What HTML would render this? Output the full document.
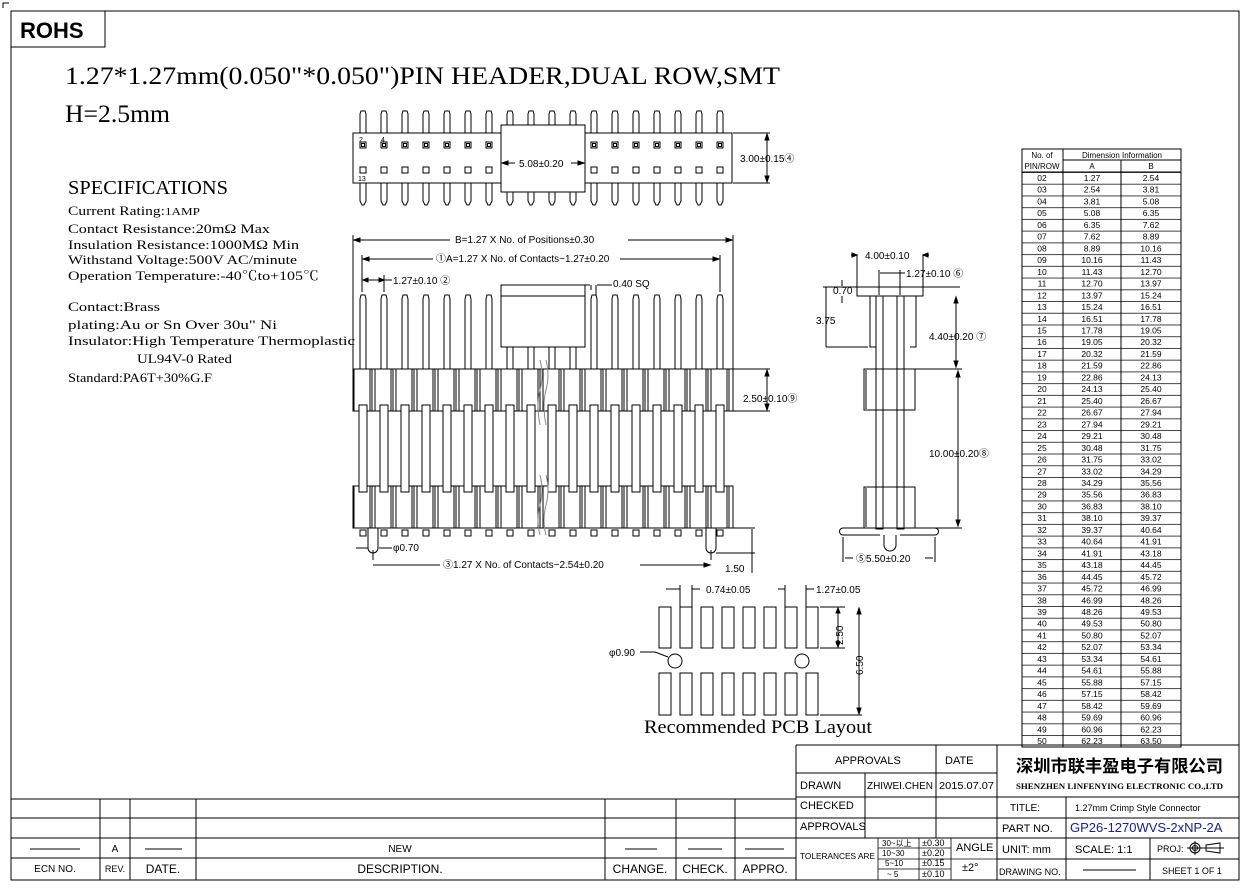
<!DOCTYPE html>
<html><head><meta charset="utf-8"><style>
html,body{margin:0;padding:0;background:#fff}
svg{display:block}
.s{font-family:"Liberation Sans","Noto Sans CJK SC",sans-serif;fill:#000}
.r{font-family:"Liberation Serif","Noto Serif CJK SC",serif;fill:#000}
</style></head><body>
<svg width="1249" height="891" viewBox="0 0 1249 891" xmlns="http://www.w3.org/2000/svg" stroke="#000" fill="none" stroke-width="1">
<defs>
<g id="tp"><path d="M-3,133 V114 L-2,111 H2 L3,114 V133"/><path d="M-3,183 V201 L-1,205 H1 L3,201 V183"/><rect x="-3" y="142" width="6" height="6"/><rect x="-1.5" y="143.5" width="3" height="3"/><rect x="-3" y="167" width="6" height="6"/></g>
<g id="fp"><path d="M-3,369 V299 L-2,295 H2 L3,299 V369"/><rect x="-4" y="405" width="8" height="87" fill="#fff"/><line x1="-9" y1="369" x2="-9" y2="411"/><line x1="7" y1="369" x2="7" y2="411"/><line x1="9" y1="369" x2="9" y2="411"/><line x1="-9" y1="486" x2="-9" y2="528"/><line x1="7" y1="486" x2="7" y2="528"/><line x1="9" y1="486" x2="9" y2="528"/><rect x="-3" y="530" width="6" height="6"/></g>
<pattern id="tl" x="0" y="172" width="20" height="11.73" patternUnits="userSpaceOnUse"><line x1="0" y1="0.5" x2="20" y2="0.5" stroke-width="0.8"/></pattern>
</defs>
<rect x="11" y="11" width="1228" height="869"/>
<path d="M3,8 V3 H9"/>
<rect x="11" y="11" width="94" height="36"/>
<text x="20" y="38" class="s" font-size="22" font-weight="bold" stroke="none">ROHS</text>
<text x="65" y="84" class="r" font-size="25" stroke="none" textLength="715" lengthAdjust="spacingAndGlyphs">1.27*1.27mm(0.050"*0.050")PIN HEADER,DUAL ROW,SMT</text>
<text x="65" y="122" class="r" font-size="25" stroke="none" textLength="105" lengthAdjust="spacingAndGlyphs">H=2.5mm</text>
<text x="68" y="194" class="r" font-size="20" stroke="none" textLength="160" lengthAdjust="spacingAndGlyphs">SPECIFICATIONS</text>
<g class="r" font-size="13" stroke="none">
<text x="68" y="215" textLength="132" lengthAdjust="spacingAndGlyphs">Current Rating:<tspan font-size="11">1AMP</tspan></text>
<text x="68" y="233" textLength="202" lengthAdjust="spacingAndGlyphs">Contact Resistance:20mΩ Max</text>
<text x="68" y="249" textLength="231" lengthAdjust="spacingAndGlyphs">Insulation Resistance:1000MΩ Min</text>
<text x="68" y="264" textLength="229" lengthAdjust="spacingAndGlyphs">Withstand Voltage:500V AC/minute</text>
<text x="68" y="280" textLength="251" lengthAdjust="spacingAndGlyphs">Operation Temperature:-40℃to+105℃</text>
<text x="68" y="311" textLength="92" lengthAdjust="spacingAndGlyphs">Contact:Brass</text>
<text x="68" y="329" textLength="209" lengthAdjust="spacingAndGlyphs">plating:Au or Sn Over 30u" Ni</text>
<text x="68" y="345" textLength="287" lengthAdjust="spacingAndGlyphs">Insulator:High Temperature Thermoplastic</text>
<text x="137" y="363" textLength="95" lengthAdjust="spacingAndGlyphs">UL94V-0 Rated</text>
<text x="68" y="382" textLength="144" lengthAdjust="spacingAndGlyphs">Standard:PA6T+30%G.F</text>
</g>
<rect x="353" y="133" width="379" height="50"/>
<g>
<use href="#tp" x="363"/><use href="#tp" x="384"/><use href="#tp" x="405"/><use href="#tp" x="426"/><use href="#tp" x="447"/><use href="#tp" x="468"/><use href="#tp" x="489"/><use href="#tp" x="510"/><use href="#tp" x="531"/><use href="#tp" x="552"/><use href="#tp" x="573"/><use href="#tp" x="594"/><use href="#tp" x="615"/><use href="#tp" x="636"/><use href="#tp" x="657"/><use href="#tp" x="678"/><use href="#tp" x="699"/><use href="#tp" x="720"/>
</g>
<rect x="501" y="125" width="84" height="67" fill="#fff"/>
<g class="s" font-size="10" stroke="none"><text x="359" y="142" font-size="7">2</text><text x="381" y="142" font-size="7">4</text><text x="358" y="181" font-size="7">13</text>
<text x="519" y="167">5.08±0.20</text>
<text x="740" y="162">3.00±0.15④</text></g>
<path d="M502,163 H515 M571,163 H584"/><path d="M502,163 l6,-2 v4z M584,163 l-6,-2 v4z" fill="#000"/>
<path d="M733,133 H770 M733,183 H770 M767,134 V182"/><path d="M767,134 l-2,6 h4z M767,182 l-2,-6 h4z" fill="#000"/>
<path d="M353,235 V370 M733,235 V370 M362,255 V292 M720,255 V292 M384,275 V292"/>
<path d="M354,240 H450 M628,240 H732"/><path d="M354,240 l6,-2 v4z M732,240 l-6,-2 v4z" fill="#000"/>
<path d="M363,259 H433 M620,259 H719"/><path d="M363,259 l6,-2 v4z M719,259 l-6,-2 v4z" fill="#000"/>
<path d="M363,280 H384 M384,280 H392"/><path d="M363,280 l5,-2 v4z M384,280 l-5,-2 v4z" fill="#000"/>
<path d="M591,285 V290 M596,285 V296 M582,285 H590 M597,285 H612"/>
<g class="s" font-size="10" stroke="none">
<text x="455" y="243">B=1.27 X No. of Positions±0.30</text>
<text x="436" y="262">①A=1.27 X No. of Contacts−1.27±0.20</text>
<text x="393" y="284">1.27±0.10 ②</text>
<text x="613" y="287">0.40 SQ</text>
<text x="743" y="402">2.50±0.10⑨</text>
<text x="393" y="551">φ0.70</text>
<text x="443" y="568">③1.27 X No. of Contacts−2.54±0.20</text>
<text x="725" y="572">1.50</text>
</g>
<rect x="353" y="369" width="380" height="42"/>
<rect x="353" y="486" width="380" height="42"/>
<g>
<use href="#fp" x="363"/><use href="#fp" x="384"/><use href="#fp" x="405"/><use href="#fp" x="426"/><use href="#fp" x="447"/><use href="#fp" x="468"/><use href="#fp" x="489"/><use href="#fp" x="510"/><use href="#fp" x="531"/><use href="#fp" x="552"/><use href="#fp" x="573"/><use href="#fp" x="594"/><use href="#fp" x="615"/><use href="#fp" x="636"/><use href="#fp" x="657"/><use href="#fp" x="678"/><use href="#fp" x="699"/><use href="#fp" x="720"/>
</g>
<rect x="501" y="285" width="84" height="62" fill="#fff"/><line x1="501" y1="296" x2="585" y2="296"/>
<path d="M540,360 q4,15 0,30 q-4,15 0,35 M546,360 q4,15 0,30 q-4,15 0,35 M540,475 q4,15 0,30 q-4,15 0,30 M546,475 q4,15 0,30 q-4,15 0,30" stroke="#888"/>
<path d="M368,528 V548 a5,5 0 0 0 10,0 V528 M706,528 V548 a5,5 0 0 0 10,0 V528"/>
<path d="M373,550 V560 M711,550 V560 M373,565 H440 M640,565 H710 M356,548 H368 M379,548 H392"/><path d="M710,565 l-6,-2 v4z" fill="#000"/>
<path d="M733,369 H770 M733,411 H770 M767,370 V410 M733,528 H755 M716,553 H755 M752,529 V573"/>
<path d="M767,370 l-2,6 h4z M767,410 l-2,-6 h4z" fill="#000"/>
<path d="M857,255 V287 M923,255 V287 M851,255 H857 M923,255 H929 M879,270 V295 M900,270 V295 M880,273 H905"/>
<path d="M857,255 l-5,-2 v4z M923,255 l5,-2 v4z" fill="#000"/>
<path d="M823,287 H960 M826,287 V347 M826,347 H868 M842,280 V286 M842,296 V303"/>
<rect x="857" y="287" width="66" height="9"/>
<path d="M870,296 V347 H876 M916,296 V347 H910"/>
<rect x="876" y="296" width="7" height="233"/><rect x="897" y="296" width="7" height="233"/>
<rect x="864" y="369" width="51" height="41"/><rect x="864" y="487" width="51" height="41"/>
<path d="M866,370 V409 M866,488 V527"/>
<path d="M866,528 H843 a3,3 0 0 0 0,7 H880 M913,528 H935 a3,3 0 0 1 0,7 H900 M884,535 V545 a6,6 0 0 0 12,0 V535"/>
<path d="M843,537 V562 M935,537 V562 M845,558 H853 M925,558 H933"/>
<path d="M915,369 H962 M915,528 H962 M956,297 V367 M958,371 V526"/>
<path d="M956,297 l-2,6 h4z M956,367 l-2,-6 h4z M958,371 l-2,6 h4z M958,526 l-2,-6 h4z" fill="#000"/>
<g class="s" font-size="10" stroke="none">
<text x="865" y="259">4.00±0.10</text>
<text x="906" y="277">1.27±0.10 ⑥</text>
<text x="833" y="294">0.70</text>
<text x="816" y="324">3.75</text>
<text x="929" y="340">4.40±0.20 ⑦</text>
<text x="929" y="457">10.00±0.20⑧</text>
<text x="856" y="562">⑤5.50±0.20</text>
</g>
<g>
<rect x="659" y="607" width="12" height="41"/><rect x="680" y="607" width="12" height="41"/><rect x="701" y="607" width="12" height="41"/><rect x="722" y="607" width="12" height="41"/><rect x="743" y="607" width="12" height="41"/><rect x="764" y="607" width="12" height="41"/><rect x="785" y="607" width="12" height="41"/><rect x="806" y="607" width="12" height="41"/>
<rect x="659" y="673" width="12" height="42"/><rect x="680" y="673" width="12" height="42"/><rect x="701" y="673" width="12" height="42"/><rect x="722" y="673" width="12" height="42"/><rect x="743" y="673" width="12" height="42"/><rect x="764" y="673" width="12" height="42"/><rect x="785" y="673" width="12" height="42"/><rect x="806" y="673" width="12" height="42"/>
</g>
<circle cx="675" cy="661" r="7"/><circle cx="802" cy="661" r="7"/>
<path d="M680,585 V607 M692,585 V607 M785,585 V607 M806,585 V607 M666,589 H680 M692,589 H700 M778,589 H785 M806,589 H814"/>
<path d="M640,652 H655 L668,657 M820,607 H845 M820,648 H845 M820,715 H862 M838,608 V647 M859,608 V714"/>
<path d="M838,608 l-2,5 h4z M838,647 l-2,-5 h4z M859,608 l-2,6 h4z M859,714 l-2,-6 h4z" fill="#000"/>
<g class="s" font-size="10" stroke="none">
<text x="706" y="593">0.74±0.05</text><text x="816" y="593">1.27±0.05</text><text x="609" y="656">φ0.90</text>
<text transform="translate(843,645) rotate(-90)">2.50</text><text transform="translate(863,675) rotate(-90)">6.50</text>
</g>
<text x="644" y="733" class="r" font-size="19" stroke="none" textLength="228" lengthAdjust="spacingAndGlyphs">Recommended PCB Layout</text>
<rect x="1022" y="149" width="159" height="598"/>
<rect x="1022" y="172" width="159" height="575" fill="url(#tl)" stroke="none"/>
<path d="M1063,160 H1181 M1022,172 H1181 M1063,149 V747 M1121,160 V747"/>
<g class="s" font-size="8" stroke="none" text-anchor="middle">
<text x="1042" y="158">No. of</text><text x="1042" y="169">PIN/ROW</text><text x="1122" y="158">Dimension Information</text><text x="1092" y="169">A</text><text x="1151" y="169">B</text>
</g>
<g class="s" font-size="8.5" stroke="none" text-anchor="middle">
<g transform="translate(0,181)"><text x="1042">02</text><text x="1092">1.27</text><text x="1151">2.54</text></g>
<g transform="translate(0,192.7)"><text x="1042">03</text><text x="1092">2.54</text><text x="1151">3.81</text></g>
<g transform="translate(0,204.5)"><text x="1042">04</text><text x="1092">3.81</text><text x="1151">5.08</text></g>
<g transform="translate(0,216.2)"><text x="1042">05</text><text x="1092">5.08</text><text x="1151">6.35</text></g>
<g transform="translate(0,227.9)"><text x="1042">06</text><text x="1092">6.35</text><text x="1151">7.62</text></g>
<g transform="translate(0,239.7)"><text x="1042">07</text><text x="1092">7.62</text><text x="1151">8.89</text></g>
<g transform="translate(0,251.4)"><text x="1042">08</text><text x="1092">8.89</text><text x="1151">10.16</text></g>
<g transform="translate(0,263.1)"><text x="1042">09</text><text x="1092">10.16</text><text x="1151">11.43</text></g>
<g transform="translate(0,274.8)"><text x="1042">10</text><text x="1092">11.43</text><text x="1151">12.70</text></g>
<g transform="translate(0,286.6)"><text x="1042">11</text><text x="1092">12.70</text><text x="1151">13.97</text></g>
<g transform="translate(0,298.3)"><text x="1042">12</text><text x="1092">13.97</text><text x="1151">15.24</text></g>
<g transform="translate(0,310)"><text x="1042">13</text><text x="1092">15.24</text><text x="1151">16.51</text></g>
<g transform="translate(0,321.8)"><text x="1042">14</text><text x="1092">16.51</text><text x="1151">17.78</text></g>
<g transform="translate(0,333.5)"><text x="1042">15</text><text x="1092">17.78</text><text x="1151">19.05</text></g>
<g transform="translate(0,345.2)"><text x="1042">16</text><text x="1092">19.05</text><text x="1151">20.32</text></g>
<g transform="translate(0,357)"><text x="1042">17</text><text x="1092">20.32</text><text x="1151">21.59</text></g>
<g transform="translate(0,368.7)"><text x="1042">18</text><text x="1092">21.59</text><text x="1151">22.86</text></g>
<g transform="translate(0,380.4)"><text x="1042">19</text><text x="1092">22.86</text><text x="1151">24.13</text></g>
<g transform="translate(0,392.1)"><text x="1042">20</text><text x="1092">24.13</text><text x="1151">25.40</text></g>
<g transform="translate(0,403.9)"><text x="1042">21</text><text x="1092">25.40</text><text x="1151">26.67</text></g>
<g transform="translate(0,415.6)"><text x="1042">22</text><text x="1092">26.67</text><text x="1151">27.94</text></g>
<g transform="translate(0,427.3)"><text x="1042">23</text><text x="1092">27.94</text><text x="1151">29.21</text></g>
<g transform="translate(0,439.1)"><text x="1042">24</text><text x="1092">29.21</text><text x="1151">30.48</text></g>
<g transform="translate(0,450.8)"><text x="1042">25</text><text x="1092">30.48</text><text x="1151">31.75</text></g>
<g transform="translate(0,462.5)"><text x="1042">26</text><text x="1092">31.75</text><text x="1151">33.02</text></g>
<g transform="translate(0,474.3)"><text x="1042">27</text><text x="1092">33.02</text><text x="1151">34.29</text></g>
<g transform="translate(0,486)"><text x="1042">28</text><text x="1092">34.29</text><text x="1151">35.56</text></g>
<g transform="translate(0,497.7)"><text x="1042">29</text><text x="1092">35.56</text><text x="1151">36.83</text></g>
<g transform="translate(0,509.4)"><text x="1042">30</text><text x="1092">36.83</text><text x="1151">38.10</text></g>
<g transform="translate(0,521.2)"><text x="1042">31</text><text x="1092">38.10</text><text x="1151">39.37</text></g>
<g transform="translate(0,532.9)"><text x="1042">32</text><text x="1092">39.37</text><text x="1151">40.64</text></g>
<g transform="translate(0,544.6)"><text x="1042">33</text><text x="1092">40.64</text><text x="1151">41.91</text></g>
<g transform="translate(0,556.4)"><text x="1042">34</text><text x="1092">41.91</text><text x="1151">43.18</text></g>
<g transform="translate(0,568.1)"><text x="1042">35</text><text x="1092">43.18</text><text x="1151">44.45</text></g>
<g transform="translate(0,579.8)"><text x="1042">36</text><text x="1092">44.45</text><text x="1151">45.72</text></g>
<g transform="translate(0,591.6)"><text x="1042">37</text><text x="1092">45.72</text><text x="1151">46.99</text></g>
<g transform="translate(0,603.3)"><text x="1042">38</text><text x="1092">46.99</text><text x="1151">48.26</text></g>
<g transform="translate(0,615)"><text x="1042">39</text><text x="1092">48.26</text><text x="1151">49.53</text></g>
<g transform="translate(0,626.7)"><text x="1042">40</text><text x="1092">49.53</text><text x="1151">50.80</text></g>
<g transform="translate(0,638.5)"><text x="1042">41</text><text x="1092">50.80</text><text x="1151">52.07</text></g>
<g transform="translate(0,650.2)"><text x="1042">42</text><text x="1092">52.07</text><text x="1151">53.34</text></g>
<g transform="translate(0,661.9)"><text x="1042">43</text><text x="1092">53.34</text><text x="1151">54.61</text></g>
<g transform="translate(0,673.7)"><text x="1042">44</text><text x="1092">54.61</text><text x="1151">55.88</text></g>
<g transform="translate(0,685.4)"><text x="1042">45</text><text x="1092">55.88</text><text x="1151">57.15</text></g>
<g transform="translate(0,697.1)"><text x="1042">46</text><text x="1092">57.15</text><text x="1151">58.42</text></g>
<g transform="translate(0,708.9)"><text x="1042">47</text><text x="1092">58.42</text><text x="1151">59.69</text></g>
<g transform="translate(0,720.6)"><text x="1042">48</text><text x="1092">59.69</text><text x="1151">60.96</text></g>
<g transform="translate(0,732.3)"><text x="1042">49</text><text x="1092">60.96</text><text x="1151">62.23</text></g>
<g transform="translate(0,744)"><text x="1042">50</text><text x="1092">62.23</text><text x="1151">63.50</text></g>
</g>
<path d="M796,745 H1239 M796,773 H997 M796,797 H1239 M796,818 H1239 M796,838 H1239 M997,859 H1239 M796,745 V880 M865,773 V838 M936,745 V838 M997,745 V880 M1066,797 V880 M1150,838 V880"/>
<path d="M878,838 V880 M919,838 V880 M951,838 V880 M878,848 H951 M878,859 H951 M878,869 H951 M951,859 H997" stroke-width="0.8"/>
<g class="s" font-size="11" stroke="none">
<text x="835" y="764">APPROVALS</text><text x="945" y="764">DATE</text>
<text x="800" y="789">DRAWN</text><text x="867" y="789" font-size="10" textLength="66" lengthAdjust="spacingAndGlyphs">ZHIWEI.CHEN</text><text x="939" y="789" font-size="10" textLength="55" lengthAdjust="spacingAndGlyphs">2015.07.07</text>
<text x="800" y="809">CHECKED</text><text x="800" y="830">APPROVALS</text>
<text x="800" y="859" font-size="8.5" textLength="75" lengthAdjust="spacingAndGlyphs">TOLERANCES ARE</text>
<text x="882" y="846" font-size="8">30~以上</text><text x="922" y="846" font-size="9">±0.30</text>
<text x="882" y="856" font-size="8">10~30</text><text x="922" y="856" font-size="9">±0.20</text>
<text x="885" y="866" font-size="8">5~10</text><text x="922" y="866" font-size="9">±0.15</text>
<text x="887" y="877" font-size="8">~ 5</text><text x="922" y="877" font-size="9">±0.10</text>
<text x="956" y="851">ANGLE</text><text x="962" y="871">±2°</text>
<text x="1010" y="811" font-size="10">TITLE:</text><text x="1075" y="811" font-size="9">1.27mm Crimp Style Connector</text>
<text x="1002" y="832">PART NO.</text><text x="1070" y="832" font-size="13" fill="#1a237e">GP26-1270WVS-2xNP-2A</text>
<text x="1002" y="853">UNIT:  mm</text><text x="1075" y="853">SCALE:   1:1</text><text x="1157" y="852" font-size="9">PROJ:</text>
<text x="999" y="875" font-size="9">DRAWING NO.</text><text x="1162" y="874" font-size="9">SHEET   1  OF  1</text>
</g>
<line x1="1083" y1="870" x2="1136" y2="870"/>
<circle cx="1195" cy="848" r="5"/><circle cx="1195" cy="848" r="2.5"/><path d="M1187,848 H1224 M1195,841 V855 M1206,845 L1220,843 V853 L1206,851z"/>
<text x="1016" y="772" class="s" font-size="17" font-weight="bold" stroke="none" textLength="207" lengthAdjust="spacingAndGlyphs">深圳市联丰盈电子有限公司</text>
<text x="1016" y="789" class="r" font-size="8.5" font-weight="bold" stroke="none" textLength="207" lengthAdjust="spacingAndGlyphs">SHENZHEN LINFENYING ELECTRONIC CO.,LTD</text>
<path d="M11,799 H796 M11,818 H796 M11,838 H796 M11,858 H796 M100,799 V880 M130,799 V880 M196,799 V880 M605,799 V880 M676,799 V880 M735,799 V880"/>
<path d="M30,849 H80 M145,849 H182 M625,849 H657 M688,849 H722 M745,849 H784"/>
<g class="s" font-size="11" stroke="none" text-anchor="middle">
<text x="115" y="852" font-size="10">A</text><text x="400" y="852" font-size="10">NEW</text>
<text x="55" y="872" font-size="10">ECN NO.</text><text x="115" y="872" font-size="9">REV.</text><text x="163" y="873" font-size="12">DATE.</text>
<text x="400" y="873" font-size="12">DESCRIPTION.</text><text x="640" y="873" font-size="12">CHANGE.</text><text x="705" y="873" font-size="12">CHECK.</text><text x="765" y="873" font-size="12">APPRO.</text>
</g>
</svg>
</body></html>
